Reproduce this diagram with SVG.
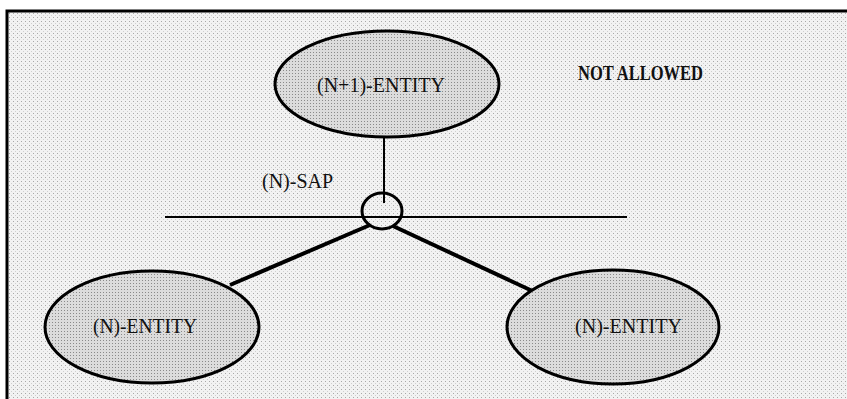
<svg xmlns="http://www.w3.org/2000/svg" width="847" height="399" viewBox="0 0 847 399">
<defs>
<pattern id="bgdots" width="4" height="4" patternUnits="userSpaceOnUse">
<rect width="4" height="4" fill="#f2f2f2"/>
<rect x="1" y="1" width="1" height="1" fill="#a8a8a8"/>
<rect x="3" y="3" width="1" height="1" fill="#cfcfcf"/>
</pattern>
<pattern id="eldots" width="3" height="3" patternUnits="userSpaceOnUse">
<rect width="3" height="3" fill="#dcdcdc"/>
<rect x="1" y="1" width="1" height="1" fill="#8a8a8a"/>
</pattern>
</defs>
<style>
.ent{fill:url(#eldots);stroke:#000;stroke-width:3}
.lbl{font-family:"Liberation Serif","Times New Roman",serif;font-size:22px;fill:#111}
.thin{stroke:#000;stroke-width:2;fill:none}
.thick{stroke:#000;stroke-width:4;fill:none}
</style>
<rect x="0" y="0" width="847" height="399" fill="#ffffff"/>
<rect x="7" y="11" width="850" height="400" fill="url(#bgdots)" stroke="#000" stroke-width="3"/>
<g id="connectors">
<line class="thin" x1="165" y1="217" x2="627" y2="217"/>
<line class="thin" x1="384" y1="138" x2="384" y2="203"/>
<line class="thick" x1="370" y1="225" x2="230" y2="285"/>
<line class="thick" x1="393" y1="226" x2="541" y2="295"/>
</g>
<g id="sap">
<ellipse cx="382" cy="211" rx="20" ry="18" fill="none" stroke="#000" stroke-width="3"/>
<text class="lbl" x="262" y="188" style="font-size:20px">(N)-SAP</text>
</g>
<g id="n1-entity">
<ellipse class="ent" cx="387" cy="84" rx="112" ry="53"/>
<text class="lbl" x="317" y="92" textLength="128" lengthAdjust="spacingAndGlyphs">(N+1)-ENTITY</text>
</g>
<g id="n-entity-left">
<ellipse class="ent" cx="152" cy="327" rx="107" ry="56"/>
<text class="lbl" x="93" y="333" textLength="104" lengthAdjust="spacingAndGlyphs">(N)-ENTITY</text>
</g>
<g id="n-entity-right">
<ellipse class="ent" cx="613" cy="327" rx="106" ry="57"/>
<text class="lbl" x="575" y="333" textLength="107" lengthAdjust="spacingAndGlyphs">(N)-ENTITY</text>
</g>
<g id="note">
<text class="lbl" x="578" y="80" style="font-weight:bold;font-size:20px" textLength="125" lengthAdjust="spacingAndGlyphs">NOT ALLOWED</text>
</g>
</svg>
